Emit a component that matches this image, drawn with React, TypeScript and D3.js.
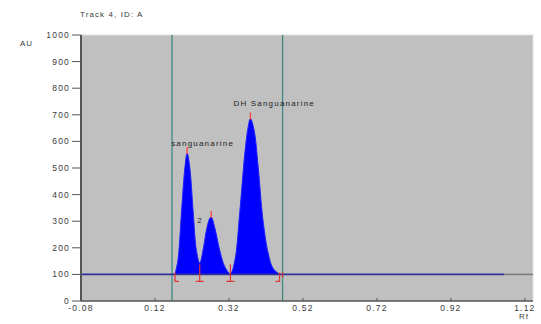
import React from 'react';
import * as d3 from 'd3';

// densitometric scan (Rf, AU)
const scanRf = [0.174, 0.182, 0.192, 0.201, 0.207, 0.214, 0.223, 0.232, 0.241, 0.25, 0.259, 0.268, 0.272, 0.281, 0.295, 0.309, 0.324, 0.336, 0.349, 0.363, 0.372, 0.378, 0.388, 0.399, 0.412, 0.426, 0.439, 0.457];
const scanAU = [100, 153, 341, 503, 556, 503, 341, 191, 142, 191, 266, 311, 316, 279, 191, 128, 103, 153, 330, 556, 655, 686, 642, 504, 304, 180, 123, 100];

const baselineAU = 100;
const baselineEnd = 1.064;
const frontLines = [0.166, 0.465];

const peakRf = [0.207, 0.272, 0.378];
const peakAU = [556, 316, 686];
const peakLabels = ['sanguanarine', '2', 'DH Sanguanarine'];

// integration boundaries: start, valleys, end
const boundRf = [0.174, 0.241, 0.324, 0.457];
const boundKind = ['start', 'mid', 'mid', 'end'];

const xTicks = [-0.08, 0.12, 0.32, 0.52, 0.72, 0.92, 1.12];
const yTicks = [0, 100, 200, 300, 400, 500, 600, 700, 800, 900, 1000];

const W = 541;
const H = 324;
const font = 'Arial, "Liberation Sans", sans-serif';
const textColor = '#3a3a3a';

export default function App() {
  const x = d3.scaleLinear().domain([-0.08, 1.142]).range([81, 533]);
  const y = d3.scaleLinear().domain([0, 1000]).range([301, 35]);

  const pts: [number, number][] = scanRf.map((r, i) => [r, scanAU[i]]);

  const area = d3
    .area<[number, number]>()
    .x((d) => x(d[0]))
    .y0(y(baselineAU))
    .y1((d) => y(d[1]))
    .curve(d3.curveCatmullRom.alpha(0.5));

  const line = d3
    .line<[number, number]>()
    .x((d) => x(d[0]))
    .y((d) => y(d[1]))
    .curve(d3.curveCatmullRom.alpha(0.5));

  const labelPos = [
    { dx: -16, dy: -7, anchor: 'start' },
    { dx: -14, dy: 6, anchor: 'start' },
    { dx: -17, dy: -13, anchor: 'start' },
  ];

  const yb = y(baselineAU);

  return (
    <svg width={W} height={H} style={{ position: 'absolute', left: 0, top: 0, background: '#fff' }}>
      <text x={80} y={17} fontFamily={font} fontSize={8} letterSpacing={1.1} fill={textColor}>
        Track 4, ID: A
      </text>
      <text x={20} y={46} fontFamily={font} fontSize={8} letterSpacing={1} fill={textColor}>
        AU
      </text>

      {/* plot area */}
      <rect x={x(-0.08)} y={y(1000)} width={x(1.142) - x(-0.08)} height={y(0) - y(1000)} fill="#c0c0c0" stroke="#e0e0e0" strokeWidth={1} />

      {/* solvent / application lines */}
      {frontLines.map((r) => (
        <line key={r} x1={x(r)} x2={x(r)} y1={y(1000)} y2={y(0)} stroke="#3f8a82" strokeWidth={1.3} />
      ))}

      {/* peaks */}
      <path d={area(pts) || ''} fill="#0000ff" />
      <path d={line(pts) || ''} fill="none" stroke="#2020ff" strokeWidth={1} />

      {/* baseline */}
      <line x1={x(baselineEnd)} x2={x(1.142)} y1={yb} y2={yb} stroke="#7a7a7a" strokeWidth={1.5} />
      <line x1={x(-0.08)} x2={x(baselineEnd)} y1={yb} y2={yb} stroke="#30309a" strokeWidth={1.6} />

      {/* integration marks */}
      {boundRf.map((r, i) => {
        const bx = x(r);
        const k = boundKind[i];
        const x1 = k === 'end' ? bx - 4 : k === 'start' ? bx : bx - 4;
        const x2 = k === 'start' ? bx + 4 : k === 'end' ? bx : bx + 4;
        return (
          <g key={r} stroke="#e03030" strokeWidth={1.2} fill="none">
            <line x1={bx} x2={bx} y1={yb - (k === 'mid' ? 10 : 2)} y2={yb + 7} />
            <line x1={x1} x2={x2} y1={yb + 7} y2={yb + 7} />
            {k === 'end' && <line x1={bx + 3} x2={bx + 3} y1={yb - 2} y2={yb + 3} />}
          </g>
        );
      })}

      {/* peak tops and labels */}
      {peakRf.map((r, i) => (
        <g key={r}>
          <line x1={x(r)} x2={x(r)} y1={y(peakAU[i]) - 6} y2={y(peakAU[i]) + 1} stroke="#ff4040" strokeWidth={1.3} />
          <text
            x={x(r) + labelPos[i].dx}
            y={y(peakAU[i]) + labelPos[i].dy}
            fontFamily={font}
            fontSize={8}
            letterSpacing={1.2}
            fill="#222"
            textAnchor={labelPos[i].anchor as any}
          >
            {peakLabels[i]}
          </text>
        </g>
      ))}

      {/* axes */}
      <line x1={x(-0.08)} x2={x(-0.08)} y1={y(1000)} y2={y(0)} stroke="#555" strokeWidth={2} />
      <line x1={x(-0.08)} x2={x(1.142)} y1={y(0)} y2={y(0)} stroke="#555" strokeWidth={1.6} />

      {yTicks.map((t) => (
        <g key={t}>
          <line x1={72} x2={x(-0.08)} y1={y(t)} y2={y(t)} stroke="#555" strokeWidth={1} />
          <text x={70} y={y(t) + 3} textAnchor="end" fontFamily={font} fontSize={8.5} letterSpacing={1.2} fill={textColor}>
            {t}
          </text>
        </g>
      ))}

      {xTicks.map((t) => (
        <g key={t}>
          <line x1={x(t)} x2={x(t)} y1={y(0) - 3} y2={y(0)} stroke="#555" strokeWidth={1} />
          <text x={x(t)} y={y(0) + 10} textAnchor="middle" fontFamily={font} fontSize={8.5} letterSpacing={1.2} fill={textColor}>
            {t.toFixed(2)}
          </text>
        </g>
      ))}
      <text x={524} y={319} textAnchor="middle" fontFamily={font} fontSize={8} letterSpacing={1} fill={textColor}>
        Rf
      </text>
    </svg>
  );
}
